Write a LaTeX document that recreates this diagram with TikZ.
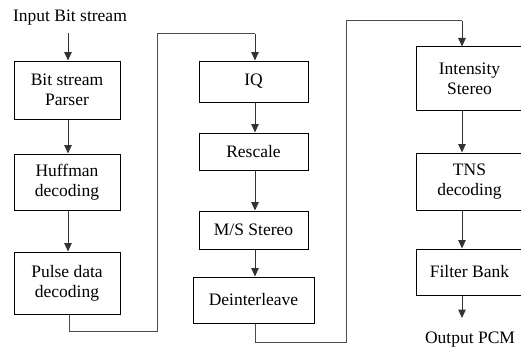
\documentclass[tikz,border=0pt]{standalone}
\usepackage{fontspec}
\setmainfont{Liberation Serif}
\usetikzlibrary{arrows.meta}

\begin{document}
\begin{tikzpicture}[x=1pt,y=-1pt,
  font=\fontsize{17.5}{20}\selectfont,
  stage/.style={draw=black, line width=1pt, align=center, inner sep=0pt,
    minimum width=106pt},
  flow/.style={draw=black!80, line width=1pt, -{Triangle[length=8.5pt,width=7.5pt]}},
  link/.style={draw=black!70, line width=1pt}]
\useasboundingbox (0,0) rectangle (521,353);
\clip (0,0) rectangle (521,353);

% first column
\node (inp) at (70,18) {Input Bit stream};
\coordinate (inpend) at (68,33);
\node[stage, minimum height=58pt] (bsp)   at (67,90)  {Bit stream\\Parser};
\node[stage, minimum height=56pt] (huff)  at (67,182) {Huffman\\decoding};
\node[stage, minimum height=62pt] (pulse) at (67,283) {Pulse data\\decoding};

% second column
\node[stage, minimum width=109pt, minimum height=41pt] (iq)      at (253.5,81.5) {IQ};
\node[stage, minimum width=109pt, minimum height=37pt] (rescale) at (253.5,151.5) {Rescale};
\node[stage, minimum width=109pt, minimum height=38pt] (ms)      at (253.5,230) {M/S Stereo};
\node[stage, minimum width=121pt, minimum height=46pt] (deint)   at (253.5,300) {Deinterleave};

% third column
\node[stage, minimum width=107pt, minimum height=63pt] (ist)    at (469.5,78.5) {Intensity\\Stereo};
\node[stage, minimum width=107pt, minimum height=57pt] (tns)    at (469.5,181.5) {TNS\\decoding};
\node[stage, minimum width=107pt, minimum height=46pt] (filter) at (469.5,272) {Filter Bank};
\node (out) at (470,340) {Output PCM};
\coordinate (outend) at (462,318);

% arrows within the columns
\draw[flow] (inpend) -- (inpend |- bsp.north);
\draw[flow] ([xshift=1pt]bsp.south) -- ([xshift=1pt]huff.north);
\draw[flow] ([xshift=1pt]huff.south) -- ([xshift=1pt]pulse.north);
\draw[flow] ([xshift=1.5pt]iq.south) -- ([xshift=1.5pt]rescale.north);
\draw[flow] ([xshift=1.5pt]rescale.south) -- ([xshift=1.5pt]ms.north);
\draw[flow] ([xshift=1.5pt]ms.south) -- ([xshift=1.5pt]deint.north);
\draw[flow] ([xshift=-7.5pt]ist.south) -- ([xshift=-7.5pt]tns.north);
\draw[flow] ([xshift=-7.5pt]tns.south) -- ([xshift=-7.5pt]filter.north);
\draw[flow] ([xshift=-7.5pt]filter.south) -- (outend);

% links between the columns
\draw[link] ([xshift=2pt]pulse.south) |- (157,331) |- (255,34);
\draw[flow] (255,34) -- ([xshift=1.5pt]iq.north);
\draw[link] ([xshift=1.5pt]deint.south) |- (346,342) |- (462,21);
\draw[flow] (462,21) -- ([xshift=-7.5pt]ist.north);
\end{tikzpicture}
\end{document}
